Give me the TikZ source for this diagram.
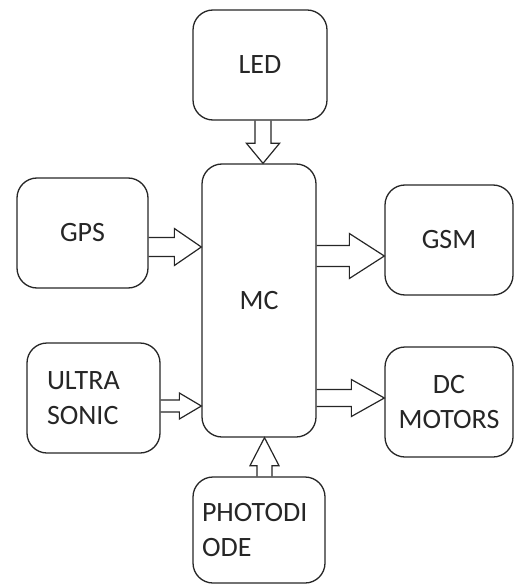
\documentclass[tikz,border=0pt]{standalone}
\usepackage{fontspec}
\setmainfont{Carlito}
\usetikzlibrary{calc,positioning}

\begin{document}
\begin{tikzpicture}[
    x=1pt, y=-1pt,
    blok/.style={draw=black!85, text=black!85, line width=1.3pt, rounded corners=20pt,
      inner sep=0pt, align=center, font=\fontsize{28}{35}\selectfont},
    blk/.style n args={3}{draw=black!85, line width=1.2pt, to path={
      ($(\tikztotarget)!#3!(\tikztostart)$) coordinate (hb)
      ($(\tikztostart)!#1!90:(\tikztotarget)$) -- ($(hb)!#1!-90:(\tikztostart)$)
      -- ($(hb)!#2!-90:(\tikztostart)$) -- (\tikztotarget)
      -- ($(hb)!#2!90:(\tikztostart)$) -- ($(hb)!#1!90:(\tikztostart)$)
      -- ($(\tikztostart)!#1!-90:(\tikztotarget)$)}}
  ]

  \useasboundingbox (0,0) rectangle (515,585);

  %% Centre block
  \node[blok, minimum width=114pt, minimum height=273pt] (mc) at (259,300.5) {MC};

  %% Inputs
  \node[blok, minimum width=134pt, minimum height=110pt] (led) at (260,65) {LED};
  \node[blok, minimum width=131pt, minimum height=110pt] (gps) at (82.5,233) {GPS};
  \node[blok, minimum height=110pt, text width=93pt, inner xsep=20pt, align=left]
    (us) at (93.5,398) {ULTRA\\SONIC};
  \node[blok, minimum height=106pt, text width=114pt, inner xsep=9pt, align=left]
    (pd) at (259,530) {PHOTODI\\ODE};

  %% Outputs
  \node[blok, minimum width=128pt, minimum height=110pt] (gsm) at (449,240) {GSM};
  \node[blok, minimum width=128pt, minimum height=110pt] (dc) at (449,402) {DC\\MOTORS};

  %% Block arrows
  \draw[blk={8pt}{16.5pt}{20pt}] ([xshift=3pt]led.south) to ([xshift=3pt]led.south |- mc.north);
  \draw[blk={9.5pt}{18.5pt}{27pt}] ([yshift=-14pt]gps.east) to ([yshift=-14pt]gps.east -| mc.west);
  \draw[blk={6pt}{13pt}{22pt}] ([yshift=-8pt]us.east) to ([yshift=-8pt]us.east -| mc.west);
  \draw[blk={7.5pt}{14.5pt}{28pt}] ([xshift=5.5pt]pd.north) to ([xshift=5.5pt]pd.north |- mc.south);
  \draw[blk={10.5pt}{22.5pt}{35pt}] ([yshift=-16pt]gsm.west -| mc.east) to ([yshift=-16pt]gsm.west);
  \draw[blk={8.5pt}{18.5pt}{33pt}] ([yshift=4pt]dc.west -| mc.east) to ([yshift=4pt]dc.west);

\end{tikzpicture}
\end{document}
